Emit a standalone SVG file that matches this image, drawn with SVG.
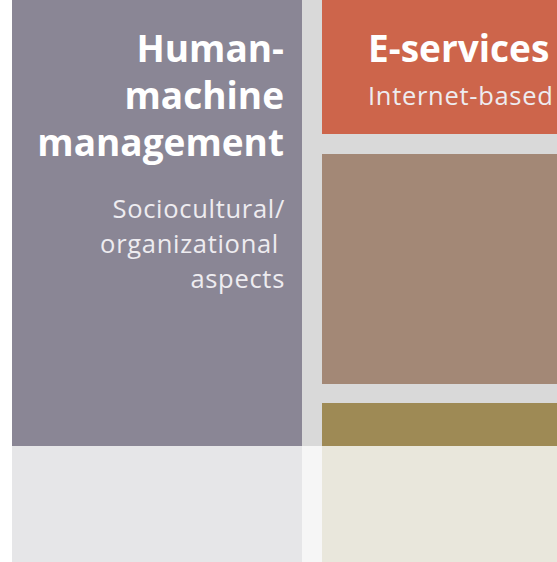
<svg xmlns="http://www.w3.org/2000/svg" width="557" height="562" viewBox="0 0 557 562">
<style>
.title{font-family:"Open Sans","Liberation Sans",sans-serif;font-weight:bold;font-size:37px;fill:#ffffff}
.sub{font-family:"Open Sans","Liberation Sans",sans-serif;font-size:25.5px;letter-spacing:0.7px;fill:#eeecf0}
.r{text-anchor:end}
</style>
<rect x="0" y="0" width="557" height="562" fill="#ffffff"/>
<g id="background">
<rect x="302" y="0" width="255" height="446" fill="#d9d9d9"/>
<rect x="12" y="446" width="290" height="116" fill="#e6e6e8"/>
<rect x="302" y="446" width="20" height="116" fill="#f6f6f6"/>
<rect x="322" y="446" width="235" height="116" fill="#e9e7dc"/>
</g>
<g id="human-machine">
<rect x="12" y="0" width="290" height="446" fill="#8a8695"/>
<text class="title r" x="284" y="62">Human-</text>
<text class="title r" x="284" y="109">machine</text>
<text class="title r" x="284" y="156">management</text>
<text class="sub r" x="285" y="218">Sociocultural/</text>
<text class="sub r" x="279" y="253">organizational</text>
<text class="sub r" x="285" y="288">aspects</text>
</g>
<g id="e-services">
<rect x="322" y="0" width="235" height="134" fill="#cd654b"/>
<text class="title" x="368" y="62">E-services</text>
<text class="sub" x="368" y="105">Internet-based</text>
</g>
<g id="brown-box">
<rect x="322" y="154" width="235" height="230" fill="#a38876"/>
</g>
<g id="olive-box">
<rect x="322" y="403" width="235" height="43" fill="#9e8a55"/>
</g>
<g id="connectors"></g>
</svg>
